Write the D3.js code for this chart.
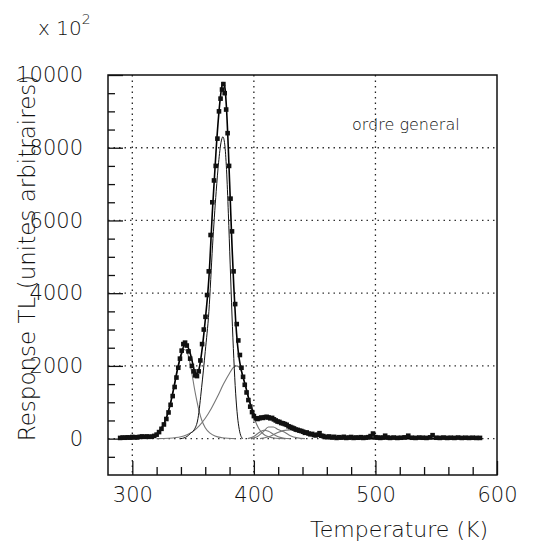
<!DOCTYPE html>
<html>
<head>
<meta charset="utf-8">
<script src="https://cdn.jsdelivr.net/npm/d3@7"></script>
<style>
body { margin: 0; background: #fff; }
svg text { font-family: "DejaVu Sans", sans-serif; font-weight: 200; fill: #111; }
</style>
</head>
<body>
<svg width="541" height="544"></svg>
<script>
// measured points (K, x100 units)
var dataT = [290,292,294,296,298,300,302,304,306,308,310,312,314,316,318,320,322,324,326,328,329.8,331.5,333.2,334.8,336.3,337.8,339.2,340.6,342,343.4,344.8,346.2,347.6,349,350.4,351.8,353.2,354.6,356,357.4,358.8,360.2,361.5,362.9,364.4,365.8,367.2,368.6,370,371.3,372.6,373.8,374.9,376,377.2,378.4,379.6,380.8,382,383.3,384.6,385.9,387.2,388.5,389.8,391.1,392.5,394,395.5,397,398.5,400,401.5,403,404.5,406,407.5,409,410.5,412,413.5,415,416.5,418,419.5,421,422.5,424,425.5,427,428.5,430,431.5,433,434.5,436,437.5,439,440.5,442,443.5,445,446.5,448,449.5,451,452.5,454,455.5,457,458.5,460,462,464,466,468,470,472,474,476,478,480,482,484,486,488,490,492,494,496,498,500,502,504,506,508,510,512,515,518,521,524,527,530,533,536,539,542,545,547,550,553,556,559,562,565,568,571,574,577,580,583,586];
var dataV = [20,30,25,35,30,45,40,35,50,60,50,60,50,55,75,110,180,270,390,540,720,930,1170,1420,1680,1950,2200,2420,2600,2640,2560,2400,2200,2000,1850,1740,1720,1850,2150,2600,3000,3350,3950,4600,5600,6500,7100,7500,8250,9000,9350,9600,9750,9500,9050,8400,7500,6600,5700,4600,3700,3150,2700,2300,1950,1700,1480,1270,1060,880,730,620,560,540,560,580,570,590,600,580,560,570,530,500,470,460,430,420,400,380,340,320,300,280,250,240,220,210,190,160,170,140,120,130,100,90,110,150,80,70,50,40,60,30,50,20,40,30,50,20,30,45,20,30,25,40,20,30,40,70,140,40,30,20,30,80,30,20,30,20,25,35,80,25,20,30,25,20,35,95,25,20,30,20,25,20,30,20,25,20,25,20,20];

// fitted total curve
var fitT = [290,300,310,315,320,324,328,331,334,337,340,343,345,347,349,351,353,355,357,360,363,366,369,371,373,374.5,376,377.5,379,380.5,382,383.5,385,386.5,388,389.5,391,393,395,398,401,404,408,412,416,420,425,430,436,442,450,458,465,472,500,540,585];
var fitV = [0,0,20,50,133,285,568,914,1376,1888,2300,2572,2550,2416,2165,1880,1790,1933,2354,3260,4410,6324,7973,8875,9543,9790,9683,9071,7959,6642,5315,4171,3248,2603,2183,1910,1700,1467,1200,856,621,528,571,620,573,474,413,320,220,150,85,35,10,0,0,0,0];

// individual peaks
var c1T = [300,310,315,320,324,328,331,334,337,340,343,345,347,349,351,353,355,357,360,364,368,374,385];
var c1V = [0,20,50,130,280,560,900,1350,1850,2250,2450,2380,2150,1800,1400,1050,750,520,300,150,70,25,0];
var c2T = [340,345,348,351,354,357,360,363,366,369,371,373,374.5,376,377.5,379,380.5,382,383.5,385,386.5,388,389.5,391];
var c2V = [0,60,150,250,550,1400,2400,3500,5300,6800,7600,8150,8300,8100,7400,6200,4800,3400,2200,1250,620,250,60,0];
var c3T = [320,330,340,345,350,355,360,365,370,375,380,383,386,389,392,395,398,401,404,408,412,418,425];
var c3V = [0,10,50,110,200,350,560,830,1150,1500,1800,1950,2000,1900,1600,1200,820,500,280,120,50,10,0];
var c4T = [395,400,404,408,412,416,420,425,430];
var c4V = [0,60,160,230,200,120,50,10,0];
var c5T = [398,403,408,412,416,420,425,430,436,442];
var c5V = [0,60,200,320,320,250,180,80,20,0];
var c6T = [405,412,418,424,430,436,442,450,458,465,472];
var c6V = [0,50,140,220,240,200,150,85,35,10,0];

var xMajor = [300, 400, 500, 600];
var xMinor = [320,340,360,380,420,440,460,480,520,540,560,580];
var yMajor = [0, 2000, 4000, 6000, 8000, 10000];
var yMinor = [-500,500,1000,1500,2500,3000,3500,4500,5000,5500,6500,7000,7500,8500,9000,9500];

var svg = d3.select("svg"),
    pL = 108, pR = 497, pT = 75, pB = 475;

var x = d3.scaleLinear().domain([280, 600]).range([pL, pR]);
var y = d3.scaleLinear().domain([-1000, 10000]).range([pB, pT]);

function pts(t, v) { return t.map(function(d, i) { return [d, v[i]]; }); }

svg.append("clipPath").attr("id", "clip")
    .append("rect").attr("x", pL).attr("y", pT)
    .attr("width", pR - pL).attr("height", pB - pT);

// grid
var grid = svg.append("g");
grid.selectAll(".vg").data([300, 400, 500]).enter().append("line")
    .attr("x1", function(d) { return x(d); }).attr("x2", function(d) { return x(d); })
    .attr("y1", pT).attr("y2", pB)
    .attr("stroke", "#222").attr("stroke-width", 1.3).attr("stroke-dasharray", "1.5,4");
grid.selectAll(".hg").data([0, 2000, 4000, 6000, 8000]).enter().append("line")
    .attr("x1", pL).attr("x2", pR)
    .attr("y1", function(d) { return y(d); }).attr("y2", function(d) { return y(d); })
    .attr("stroke", "#333").attr("stroke-width", 1.3).attr("stroke-dasharray", "1.5,4");

// axes (ticks point inward)
svg.append("g").attr("transform", "translate(0," + pB + ")")
    .call(d3.axisBottom(x).tickValues(xMajor).tickSize(-14).tickPadding(12).tickFormat(d3.format("d")));
svg.append("g").attr("transform", "translate(0," + pB + ")")
    .call(d3.axisBottom(x).tickValues(xMinor).tickSize(-8).tickFormat(""));
svg.append("g").attr("transform", "translate(" + pL + ",0)")
    .call(d3.axisLeft(y).tickValues(yMajor).tickSize(-15).tickPadding(25).tickFormat(d3.format("d")));
svg.append("g").attr("transform", "translate(" + pL + ",0)")
    .call(d3.axisLeft(y).tickValues(yMinor).tickSize(-7).tickFormat(""));
svg.selectAll(".domain").remove();
svg.selectAll(".tick line").attr("stroke", "#111").attr("stroke-width", 1.3);
svg.selectAll(".tick text").style("font-size", "21px").attr("fill", "#111");

// frame
svg.append("rect").attr("x", pL).attr("y", pT)
    .attr("width", pR - pL).attr("height", pB - pT)
    .attr("fill", "none").attr("stroke", "#111").attr("stroke-width", 1.5);

var line = d3.line()
    .x(function(d) { return x(d[0]); })
    .y(function(d) { return y(d[1]); })
    .curve(d3.curveMonotoneX);

var plot = svg.append("g").attr("clip-path", "url(#clip)");

[[c1T, c1V], [c3T, c3V], [c4T, c4V], [c5T, c5V], [c6T, c6V]].forEach(function(c) {
    plot.append("path").attr("d", line(pts(c[0], c[1])))
        .attr("fill", "none").attr("stroke", "#777").attr("stroke-width", 1.1);
});
plot.append("path").attr("d", line(pts(c2T, c2V)))
    .attr("fill", "none").attr("stroke", "#111").attr("stroke-width", 1);
plot.append("path").attr("d", line(pts(fitT, fitV)))
    .attr("fill", "none").attr("stroke", "#000").attr("stroke-width", 1.6);

plot.selectAll(".pt").data(pts(dataT, dataV)).enter().append("rect")
    .attr("x", function(d) { return x(d[0]) - 2.3; })
    .attr("y", function(d) { return y(d[1]) - 2.3; })
    .attr("width", 4.6).attr("height", 4.6)
    .attr("fill", "#111");

// labels
svg.append("text").attr("x", 352).attr("y", 130)
    .style("font-size", "16px").text("ordre general");

var mult = svg.append("text").attr("x", 38).attr("y", 35).style("font-size", "20px");
mult.append("tspan").text("x 10");
mult.append("tspan").attr("dy", -11).style("font-size", "14px").text("2");

svg.append("text").attr("x", 488).attr("y", 537)
    .attr("text-anchor", "end").style("font-size", "22px").text("Temperature (K)");

svg.append("text")
    .attr("transform", "translate(35,258) rotate(-90)")
    .attr("text-anchor", "middle").style("font-size", "23px")
    .text("Response TL (unites arbitraires)");
</script>
</body>
</html>
